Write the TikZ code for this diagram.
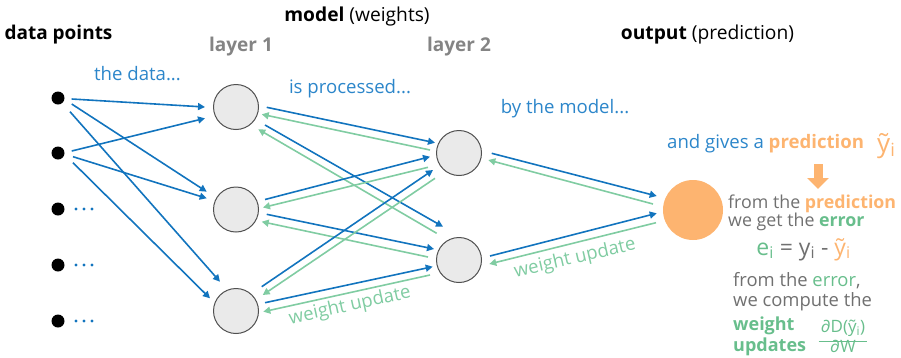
\documentclass[tikz,border=0pt]{standalone}
\usepackage{fontspec}
\setmainfont{Open Sans}
\usetikzlibrary{arrows.meta,calc}

\definecolor{fwdblue}{RGB}{18,116,190}
\definecolor{txtblue}{RGB}{44,134,202}
\definecolor{bwdgreen}{RGB}{128,204,162}
\definecolor{txtgreen}{RGB}{104,190,140}
\definecolor{predorange}{RGB}{253,180,112}
\definecolor{labelgrey}{RGB}{132,132,132}
\definecolor{bodygrey}{RGB}{112,112,112}
\definecolor{unitfill}{RGB}{234,234,234}
\definecolor{unitdraw}{RGB}{80,80,80}

% connector from an offset of one node to an offset of another
\newcommand\link[5]{\draw[#1] ($(#2)+(#3)$) -- ($(#4)+(#5)$);}

\begin{document}
\begin{tikzpicture}[x=1pt,y=-1pt,
  txt/.style={inner sep=0pt, font=\fontsize{18.6}{21}\selectfont},
  rtxt/.style={inner sep=0pt, font=\fontsize{17.8}{20}\selectfont},
  head/.style={inner sep=0pt, font=\fontsize{19.2}{22}\selectfont},
  headb/.style={inner sep=0pt, font=\fontsize{19}{22}\selectfont\bfseries},
  datapt/.style={circle, fill=black, minimum size=13pt, inner sep=0pt},
  unit/.style={circle, draw=unitdraw, line width=1pt, fill=unitfill, minimum size=45pt, inner sep=0pt},
  fwd/.style={draw=fwdblue, line width=1.6pt, -{Triangle[length=7pt,width=7pt]}},
  bwd/.style={draw=bwdgreen, line width=1.6pt, -{Triangle[length=7pt,width=7pt]}},
]
\useasboundingbox (0,0) rectangle (901,357);

% input data points
\node[datapt] (d1) at (58,98) {};
\node[datapt] (d2) at (58,153) {};
\node[datapt] (d3) at (58,209) {};
\node[datapt] (d4) at (58,265) {};
\node[datapt] (d5) at (58,321) {};
\foreach \yy in {209,265,321}
  \foreach \xx in {76,84,92}
    \fill[fwdblue] (\xx,\yy) circle (1.7);

% layers and output
\node[unit] (l1a) at (236,107) {};
\node[unit] (l1b) at (236,209.5) {};
\node[unit] (l1c) at (236,311) {};
\node[unit] (l2a) at (459,153) {};
\node[unit] (l2b) at (459,260) {};
\node[circle, fill=predorange, minimum size=60pt, inner sep=0pt] (out) at (693,210) {};

% data -> layer 1
\link{fwd}{d1}{13.7,1}{l1a}{-31,0}
\link{fwd}{d1}{13.7,6}{l1b}{-29.3,-17.8}
\link{fwd}{d1}{12,13.7}{l1c}{-16,-29.3}
\link{fwd}{d2}{13.7,-2}{l1a}{-31,11.3}
\link{fwd}{d2}{15,3.7}{l1b}{-29.3,-11.2}
\link{fwd}{d2}{15,9.7}{l1c}{-26,-12.7}

% layer 1 <-> layer 2
\link{fwd}{l1a}{30.7,0.3}{l2a}{-24,-10.3}
\link{bwd}{l2a}{-29,-3}{l1a}{25.7,7.3}
\link{fwd}{l1a}{29,18}{l2b}{-16,-33.3}
\link{bwd}{l2b}{-22.3,-26.7}{l1a}{22.3,22.3}
\link{fwd}{l1b}{29,-10}{l2a}{-29,3.7}
\link{bwd}{l2a}{-31,14.3}{l1b}{27,-2}
\link{fwd}{l1b}{30.7,4.8}{l2b}{-25,-11}
\link{bwd}{l2b}{-31,-3}{l1b}{25.7,12.2}
\link{fwd}{l1c}{25.7,-24.3}{l2a}{-26,17}
\link{bwd}{l2a}{-24,25.3}{l1c}{26.7,-16}
\link{fwd}{l1c}{29,-8.3}{l2b}{-26.3,6.7}
\link{bwd}{l2b}{-29,15}{l1c}{27.3,0.7}

% layer 2 <-> output
\link{fwd}{l2a}{32.7,0.3}{out}{-36.3,-14}
\link{bwd}{out}{-40,-6}{l2a}{29.3,7}
\link{fwd}{l2b}{31,-4}{out}{-36.3,3.3}
\link{bwd}{out}{-37,12.7}{l2b}{30.3,4}

% headings
\node[headb, anchor=base] (tdata) at (58.5,39) {data points};
\node[head, anchor=base] (tmodel) at (357,21.7) {\textbf{model} (weights)};
\node[headb, anchor=base, text=labelgrey] (tl1) at (241,51.7) {layer 1};
\node[headb, anchor=base, text=labelgrey] (tl2) at (459,51.7) {layer 2};
\node[head, anchor=base] (tout) at (707.5,39.3) {\textbf{output} (prediction)};

% blue captions
\node[txt, anchor=base, text=txtblue] (c1) at (137.5,80.7) {the data...};
\node[txt, anchor=base, text=txtblue] (c2) at (350,93.3) {is processed...};
\node[txt, anchor=base, text=txtblue] (c3) at (565,113.3) {by the model...};
\node[txt, anchor=base west, text=txtblue] (c4) at (667,148.3) {and gives a \textcolor{predorange}{\textbf{prediction}}};
\node[inner sep=0pt, anchor=base west, text=predorange, font=\fontsize{26}{28}\selectfont] (yhat) at (877,152) {ỹ\textsubscript{i}};

% prediction -> error arrow
\coordinate (ptop) at (818,164);
\coordinate (pbot) at (818,189);
\draw[predorange, line width=9pt, -{Triangle[length=11pt,width=21pt]}] (ptop) -- (pbot);

% error text
\node[rtxt, anchor=base west, text=bodygrey] (e1) at (728,208.3) {from the \textcolor{predorange}{\textbf{prediction}}};
\node[rtxt, anchor=base west, text=bodygrey] (e2) at (728,226.7) {we get the \textcolor{txtgreen}{\textbf{error}}};
\node[inner sep=0pt, anchor=base, text=bodygrey, font=\fontsize{23}{27}\selectfont] (eq) at (803.5,255)
  {\textcolor{txtgreen}{e\textsubscript{i}} = y\textsubscript{i} - \textcolor{predorange}{ỹ\textsubscript{i}}};
\node[rtxt, anchor=base west, text=bodygrey, font=\fontsize{18.4}{21}\selectfont] (u1) at (733,286.7) {from the \textcolor{txtgreen}{error},};
\node[rtxt, anchor=base west, text=bodygrey, font=\fontsize{18.4}{21}\selectfont] (u2) at (733,306.7) {we compute the};
\node[headb, anchor=base west, text=txtgreen, font=\fontsize{18}{21}\selectfont\bfseries] (u3) at (733,330) {weight};
\node[headb, anchor=base west, text=txtgreen, font=\fontsize{18}{21}\selectfont\bfseries] (u4) at (733,351.7) {updates};
\node[inner sep=0pt, anchor=base, text=txtgreen, font=\fontsize{17}{19}\selectfont] (fnum) at (843,332.5) {∂D(ỹ\textsubscript{i})};
\node[inner sep=0pt, anchor=base, text=txtgreen, font=\fontsize{17}{19}\selectfont] (fden) at (843,352) {∂W};
\draw[txtgreen, line width=0.9pt] ($(fnum.south west)+(-2,4.5)$) -- ($(fnum.south east)+(2,4.5)$);

% backward pass labels
\node[txt, anchor=base, text=bwdgreen, rotate=12.4] (w1) at (351,311) {weight update};
\node[txt, anchor=base, text=bwdgreen, rotate=13] (w2) at (576,263.5) {weight update};
\end{tikzpicture}
\end{document}
